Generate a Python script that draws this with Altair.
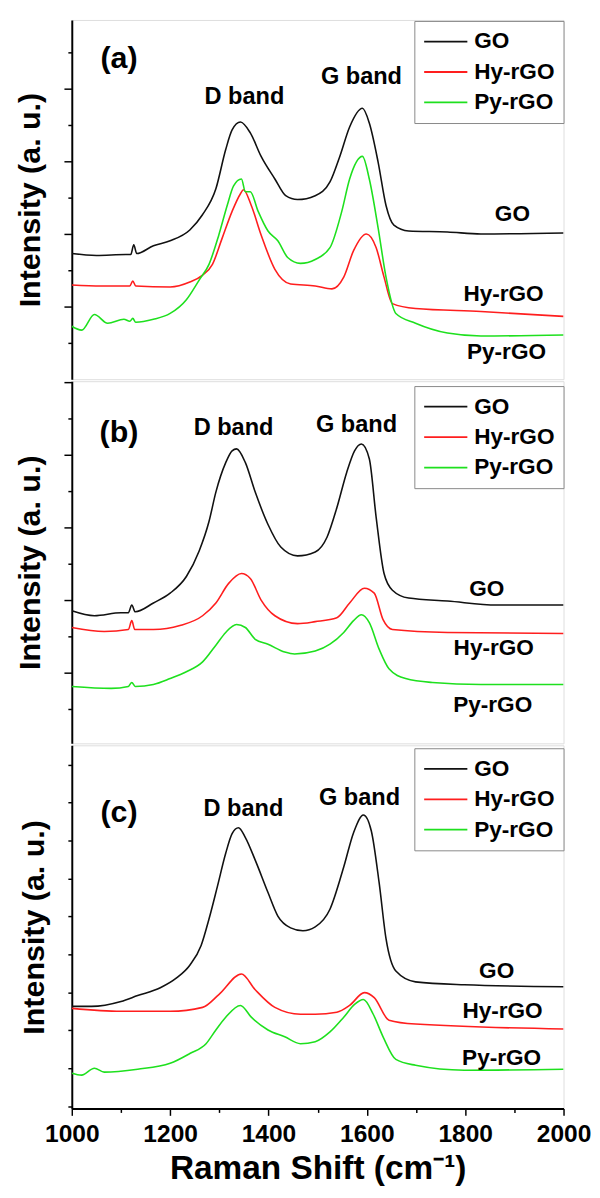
import altair as alt
import pandas as pd

SERIES = ["GO", "Hy-rGO", "Py-rGO"]
COLORS = ["#111111", "#ff1e1e", "#1ee01e"]

# ---- panel (a) ----
A_GO_X = [1000,1050,1110,1120,1126,1132,1166,1200,1240,1265,1293,1313,1326,1343,1363,1385,1413,1435,1459,1495,1525,1545,1565,1591,1605,1623,1639,1655,1685,1764,1832,2000]
A_GO_Y = [128,126,127,127,137,128,136,141,152,167,194,234,254,262,251,227,204,187,183,187,201,227,257,276,261,221,177,157,151,150,148,149]
A_HY_X = [1000,1060,1110,1118,1124,1130,1200,1240,1266,1286,1306,1326,1343,1349,1365,1385,1413,1445,1495,1529,1553,1573,1599,1619,1635,1652,1699,1832,2000]
A_HY_Y = [96,95,95,95,100,95,94,99,106,117,144,171,189,193,177,147,112,97,95,92,104,131,148,134,104,77,72,69,64]
A_PY_X = [1000,1020,1046,1073,1106,1118,1124,1130,1166,1200,1233,1259,1279,1299,1316,1329,1345,1353,1363,1379,1399,1419,1439,1465,1495,1525,1549,1565,1591,1605,1623,1639,1659,1699,1764,1832,2000]
A_PY_Y = [54,50,66,57,61,59,62,58,61,67,81,101,117,147,177,197,204,191,191,171,151,141,124,118,122,134,171,204,227,204,154,104,67,57,47,44,45]

# ---- panel (b) ----
B_GO_X = [1000,1046,1100,1115,1122,1129,1166,1200,1233,1259,1279,1293,1313,1326,1335,1353,1373,1399,1425,1459,1495,1519,1539,1559,1575,1589,1605,1619,1635,1652,1685,1764,1864,2000]
B_GO_Y = [135,130,133,133,141,134,143,153,170,196,226,256,286,298,300,286,256,223,200,191,195,210,240,276,298,305,290,230,173,156,148,145,141,141]
B_HY_X = [1000,1066,1115,1122,1128,1166,1220,1266,1293,1319,1345,1363,1385,1413,1459,1495,1539,1565,1595,1615,1633,1652,1764,2000]
B_HY_Y = [118,114,116,125,116,116,120,130,143,163,173,168,146,130,122,124,128,143,158,153,126,116,113,112]
B_PY_X = [1000,1080,1115,1122,1129,1166,1200,1233,1266,1293,1313,1335,1353,1373,1399,1433,1453,1495,1525,1553,1573,1589,1605,1625,1645,1679,1733,1832,2000]
B_PY_Y = [58,56,58,62,58,60,66,73,83,100,113,121,118,106,101,93,91,94,101,113,125,131,123,96,76,66,62,60,60]

# ---- panel (c) ----
C_GO_X = [1000,1040,1100,1134,1180,1213,1240,1263,1279,1296,1313,1326,1339,1353,1373,1399,1419,1445,1470,1495,1525,1553,1573,1593,1609,1625,1639,1659,1699,1798,2000]
C_GO_Y = [104,104,109,115,123,133,146,166,193,226,260,280,286,276,253,220,196,184,181,185,203,246,281,299,283,230,173,140,129,126,124]
C_HY_X = [1000,1100,1200,1266,1299,1345,1373,1413,1465,1495,1539,1565,1595,1615,1645,1699,2000]
C_HY_Y = [102,99,99,103,116,137,121,103,96,96,98,105,118,113,90,86,81]
C_PY_X = [1000,1020,1046,1066,1134,1200,1240,1273,1293,1313,1343,1365,1399,1433,1465,1495,1525,1553,1575,1593,1613,1633,1659,1699,1798,2000]
C_PY_Y = [36,34,41,37,40,46,56,66,80,93,105,93,80,73,66,68,78,93,106,111,96,73,50,44,39,40]

# ---- annotations (data coordinates) ----
PANEL_LETTERS = ["(a)", "(b)", "(c)"]
LETTER_X = [1096, 1096, 1096]
LETTER_Y = [326, 316, 301]
BANDS = ["D band", "G band"]
A_BAND_X = [1351, 1589]; A_BAND_Y = [287, 308]
B_BAND_X = [1329, 1579]; B_BAND_Y = [321, 324]
C_BAND_X = [1349, 1585]; C_BAND_Y = [305, 316]
A_LAB_X = [1896, 1878, 1884]; A_LAB_Y = [168, 87, 28]
B_LAB_X = [1844, 1858, 1856]; B_LAB_Y = [157, 97, 39]
C_LAB_X = [1864, 1876, 1874]; C_LAB_Y = [140, 99, 51]

# y tick values (a.u.)
A_MAJOR = [74, 148, 222, 296]; A_MINOR = [37, 111, 185, 259, 333]
B_MAJOR = [72, 146, 220, 294, 368]; B_MINOR = [35, 109, 183, 257, 331]
C_MAJOR = [21, 60, 99, 138, 176, 215, 254, 292, 331, 370]
C_MINOR = [2, 41, 80, 118, 157, 196, 234, 273, 312, 350]
X_TICKS = [1000, 1100, 1200, 1300, 1400, 1500, 1600, 1700, 1800, 1900, 2000]

FONT = "Liberation Sans"


def line_df(xs_ys):
    rows = []
    for s, (xs, ys) in zip(SERIES, xs_ys):
        for x, y in zip(xs, ys):
            rows.append({"wn": x, "val": y, "series": s})
    return pd.DataFrame(rows)


def panel(letter_idx, series_xy, band_x, band_y, lab_x, lab_y, height, ymax,
          major, minor, legend_y, show_x):
    df = line_df(series_xy)
    xscale = alt.Scale(domain=[1000, 2000], nice=False)
    yscale = alt.Scale(domain=[0, ymax], nice=False)
    test = "indexof(" + str(major) + ", datum.value) >= 0"
    yaxis = alt.Axis(
        title="Intensity (a. u.)", titleFont=FONT, titleFontSize=31,
        titleFontWeight="bold", titleColor="black", titlePadding=17,
        labels=False, values=major + minor, grid=False,
        tickSize={"condition": {"test": test, "value": 8}, "value": 4},
        tickWidth=1.5, tickColor="black", domainColor="black", domainWidth=2,
    )
    if show_x:
        xaxis = alt.Axis(
            title="Raman Shift (cm⁻¹)", titleFont=FONT, titleFontSize=34,
            titleFontWeight="bold", titleColor="black", titlePadding=5,
            values=X_TICKS, format="d",
            labelExpr="datum.value % 200 == 0 ? datum.label : ''",
            labelFont=FONT, labelFontSize=25, labelFontWeight="bold",
            labelColor="black", labelPadding=7, labelFlush=False, labelOverlap=False,
            tickSize={"condition": {"test": "datum.value % 200 == 0", "value": 7}, "value": 4},
            tickWidth=1.5, tickColor="black", domainColor="black", domainWidth=2,
            grid=False,
        )
    else:
        xaxis = None

    lines = alt.Chart(df).mark_line(strokeWidth=1.6, interpolate="monotone", clip=True).encode(
        x=alt.X("wn:Q", scale=xscale, axis=xaxis),
        y=alt.Y("val:Q", scale=yscale, axis=yaxis),
        color=alt.Color(
            "series:N",
            scale=alt.Scale(domain=SERIES, range=COLORS),
            legend=alt.Legend(
                title=None, orient="none", legendX=349, legendY=legend_y,
                symbolType="M-1,0H3", symbolSize=484, symbolStrokeWidth=1.8,
                labelFont=FONT, labelFontSize=23, labelFontWeight="bold",
                labelColor="black", labelOffset=28, rowPadding=7, padding=9,
                strokeColor="#888888", fillColor="white", labelLimit=300,
            ),
        ),
    )

    letter_df = pd.DataFrame({"wn": [LETTER_X[letter_idx]], "val": [LETTER_Y[letter_idx]],
                              "t": [PANEL_LETTERS[letter_idx]]})
    band_df = pd.DataFrame({"wn": band_x, "val": band_y, "t": BANDS})
    lab_df = pd.DataFrame({"wn": lab_x, "val": lab_y, "t": SERIES})

    letter = alt.Chart(letter_df).mark_text(font=FONT, fontSize=31, fontWeight="bold",
                                            color="black", align="center", baseline="middle").encode(
        x=alt.X("wn:Q", scale=xscale), y=alt.Y("val:Q", scale=yscale), text="t:N")
    bands = alt.Chart(band_df).mark_text(font=FONT, fontSize=24, fontWeight="bold",
                                         color="black", align="center", baseline="middle").encode(
        x=alt.X("wn:Q", scale=xscale), y=alt.Y("val:Q", scale=yscale), text="t:N")
    labs = alt.Chart(lab_df).mark_text(font=FONT, fontSize=23, fontWeight="bold",
                                       color="black", align="center", baseline="middle").encode(
        x=alt.X("wn:Q", scale=xscale), y=alt.Y("val:Q", scale=yscale), text="t:N")

    return alt.layer(lines, letter, bands, labs).properties(width=501, height=height)


pa = panel(0, [(A_GO_X, A_GO_Y), (A_HY_X, A_HY_Y), (A_PY_X, A_PY_Y)],
           A_BAND_X, A_BAND_Y, A_LAB_X, A_LAB_Y, 366, 366, A_MAJOR, A_MINOR, 1, False)
pb = panel(1, [(B_GO_X, B_GO_Y), (B_HY_X, B_HY_Y), (B_PY_X, B_PY_Y)],
           B_BAND_X, B_BAND_Y, B_LAB_X, B_LAB_Y, 369, 369, B_MAJOR, B_MINOR, 5, False)
pc = panel(2, [(C_GO_X, C_GO_Y), (C_HY_X, C_HY_Y), (C_PY_X, C_PY_Y)],
           C_BAND_X, C_BAND_Y, C_LAB_X, C_LAB_Y, 370, 370, C_MAJOR, C_MINOR, 3, True)

chart = alt.vconcat(pa, pb, pc, spacing=0).resolve_scale(
    y="independent", color="independent"
).resolve_legend(color="independent").properties(
    padding={"left": 6, "top": 0, "right": 0, "bottom": 0}, background="white"
).configure_view(stroke="black", strokeWidth=2).configure(font=FONT)

chart.save("out.html", embed_options={"renderer": "svg", "actions": False})
